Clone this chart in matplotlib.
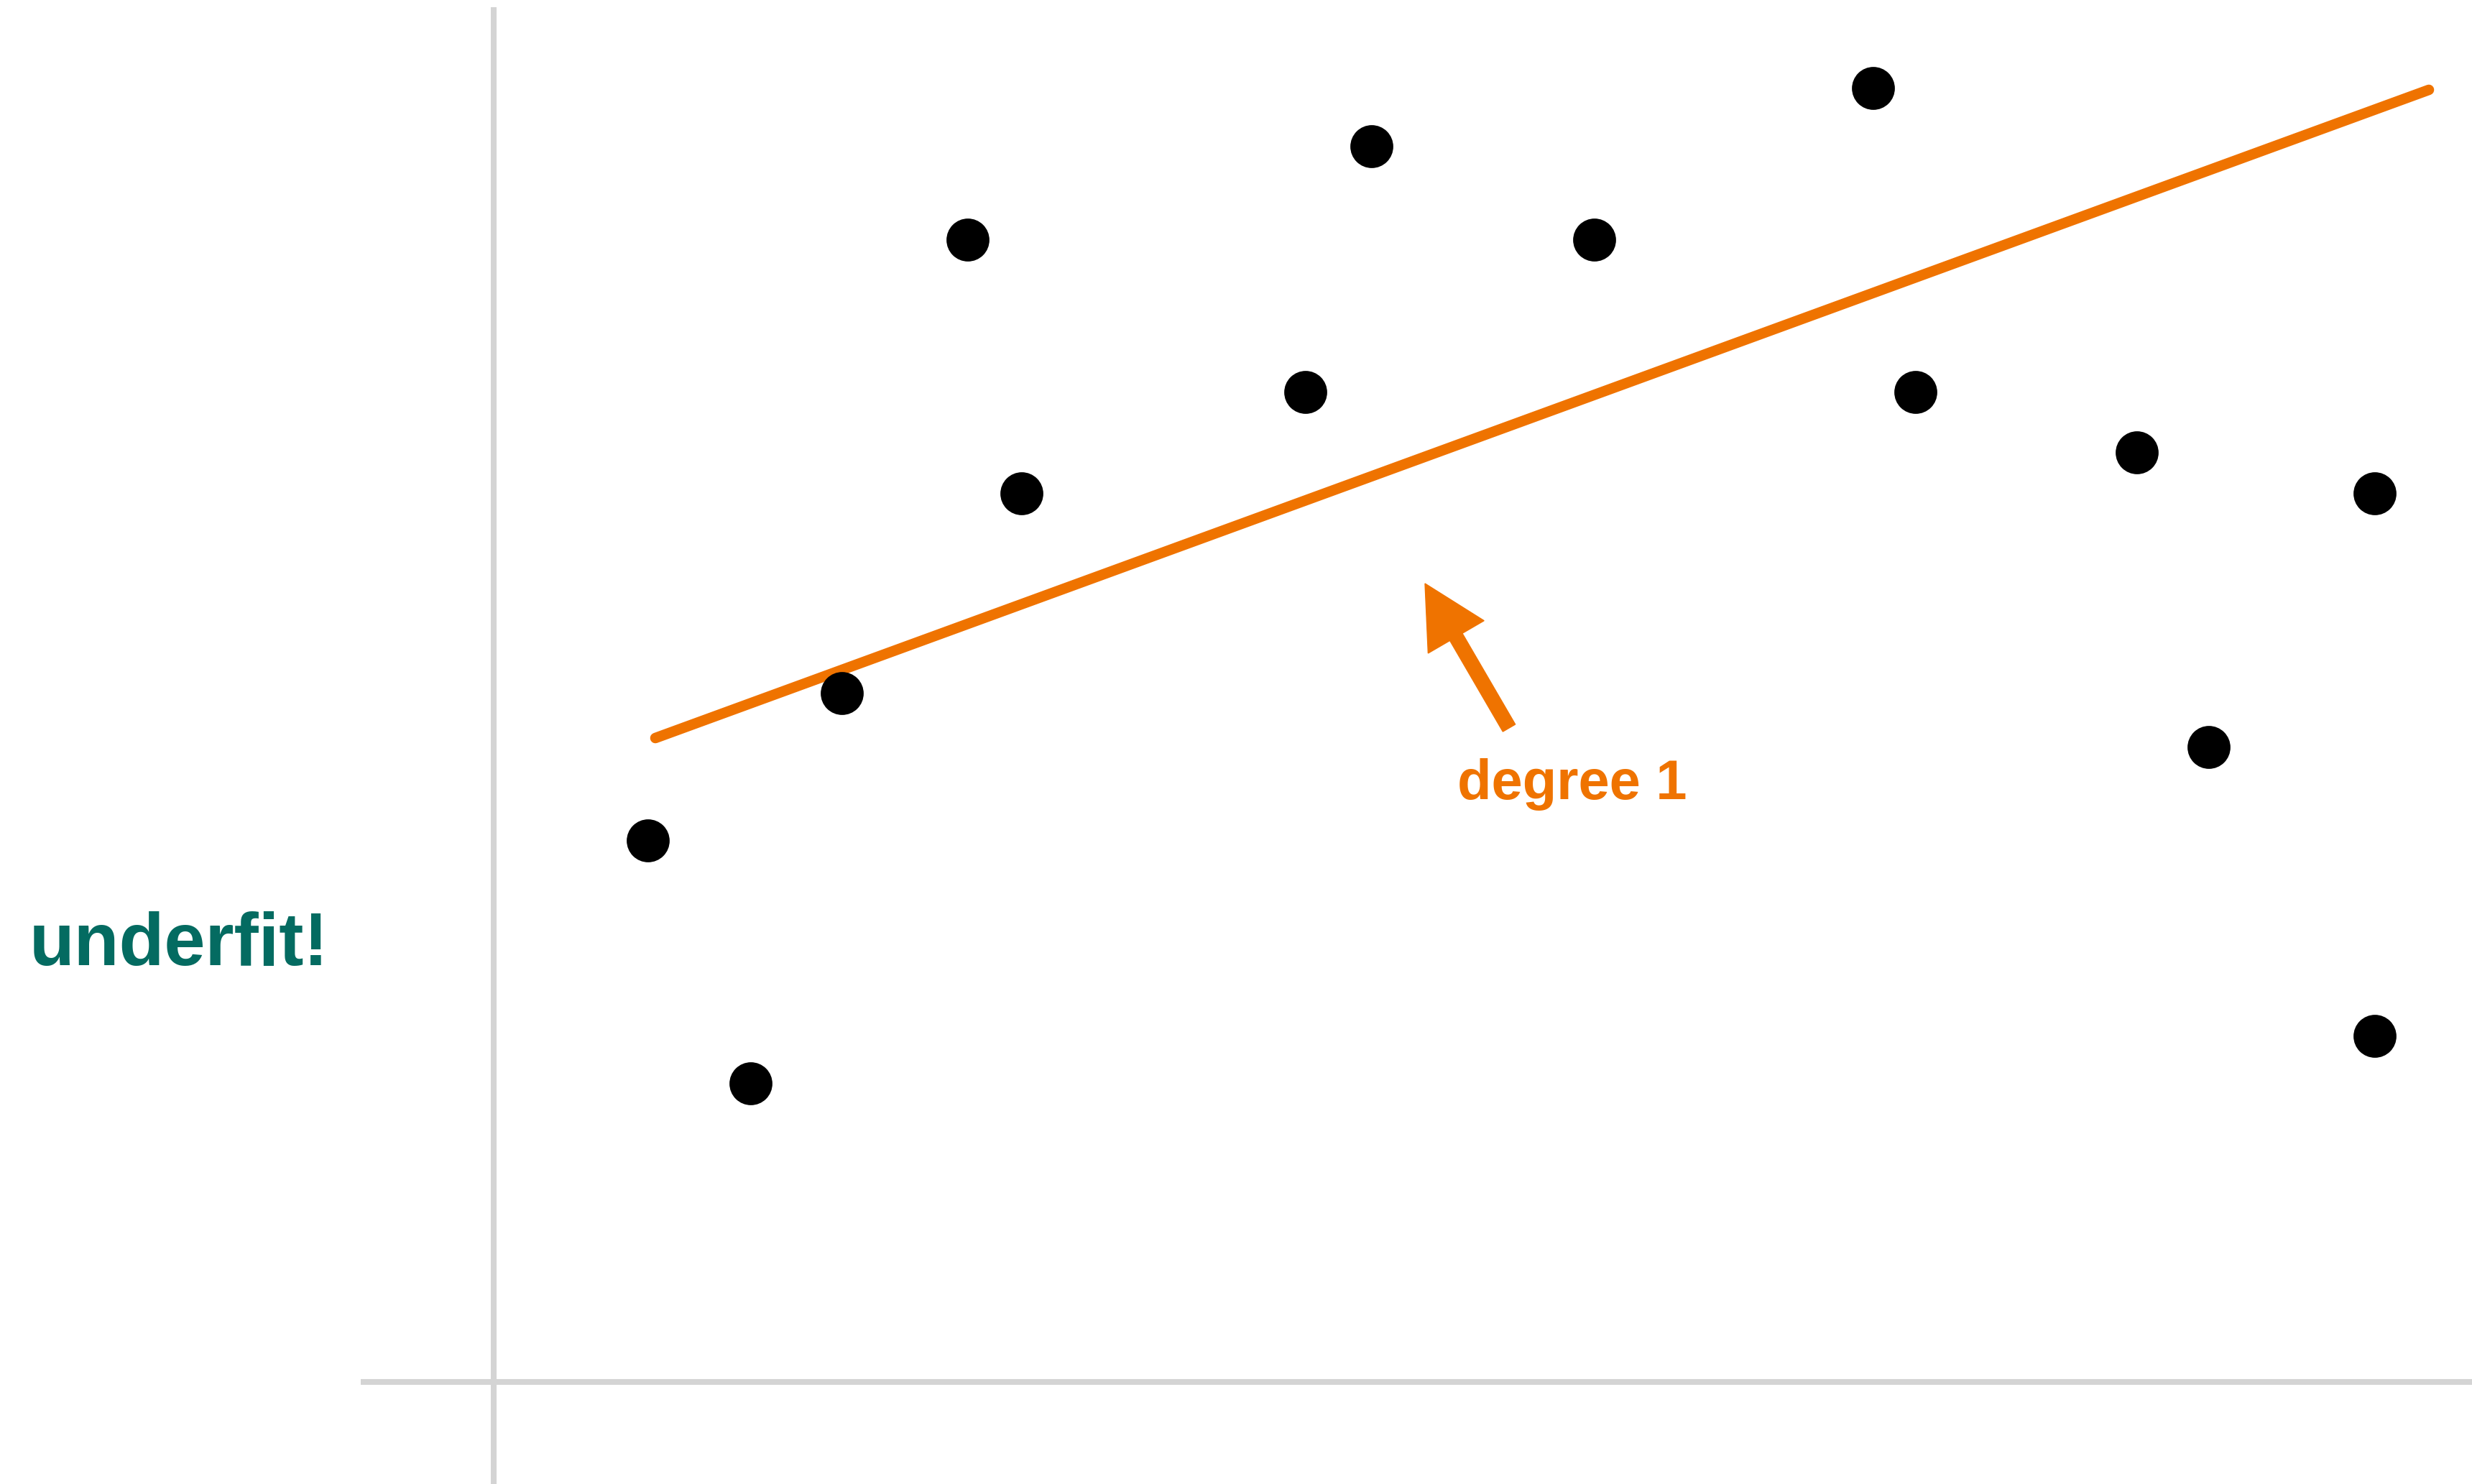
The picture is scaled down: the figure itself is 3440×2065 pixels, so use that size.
import matplotlib.pyplot as plt

# data (x, y) in chart units, origin at the axis crossing
x_points = [2.15, 3.58, 4.85, 6.60, 7.35, 11.30, 12.22, 15.32, 19.20, 19.79, 22.87, 23.87, 26.18, 26.18]
y_points = [7.53, 4.15, 9.58, 15.89, 12.36, 13.77, 17.19, 15.89, 18.00, 13.77, 12.93, 8.83, 12.36, 4.81]

fit_x = [2.25, 26.93]
fit_y = [8.96, 17.98]

arrow_tail = (14.13, 9.10)
arrow_tip = (12.96, 11.11)

orange = '#EF7300'
teal = '#046B61'
grey = '#D4D4D4'

plt.rcParams['font.family'] = ['Liberation Sans', 'DejaVu Sans']

fig = plt.figure(figsize=(34.41, 20.65), dpi=100)
ax = fig.add_axes([0, 0, 1, 1])
ax.set_xlim(-6.87, 27.54)
ax.set_ylim(-1.42, 19.23)
ax.axis('off')

# axis lines
ax.plot([0, 0], [-1.42, 19.13], color=grey, lw=5.8, solid_capstyle='butt', zorder=1)
ax.plot([-1.85, 27.54], [0, 0], color=grey, lw=5.8, solid_capstyle='butt', zorder=1)

ax.plot(fit_x, fit_y, color=orange, lw=10.5, solid_capstyle='round', zorder=2)
ax.scatter(x_points, y_points, s=1850, color='black', edgecolors='none', zorder=3)

ax.arrow(arrow_tail[0], arrow_tail[1],
         arrow_tip[0] - arrow_tail[0], arrow_tip[1] - arrow_tail[1],
         width=0.2, head_width=0.9, head_length=0.86,
         length_includes_head=True, color=orange, zorder=2)

ax.text(13.41, 8.11, 'degree 1', color=orange, fontsize=56, fontweight='bold',
        ha='left', va='baseline')
ax.text(-6.46, 5.80, 'underfit!', color=teal, fontsize=74, fontweight='bold',
        ha='left', va='baseline')

fig.savefig('out.png', dpi=100, facecolor='white')
